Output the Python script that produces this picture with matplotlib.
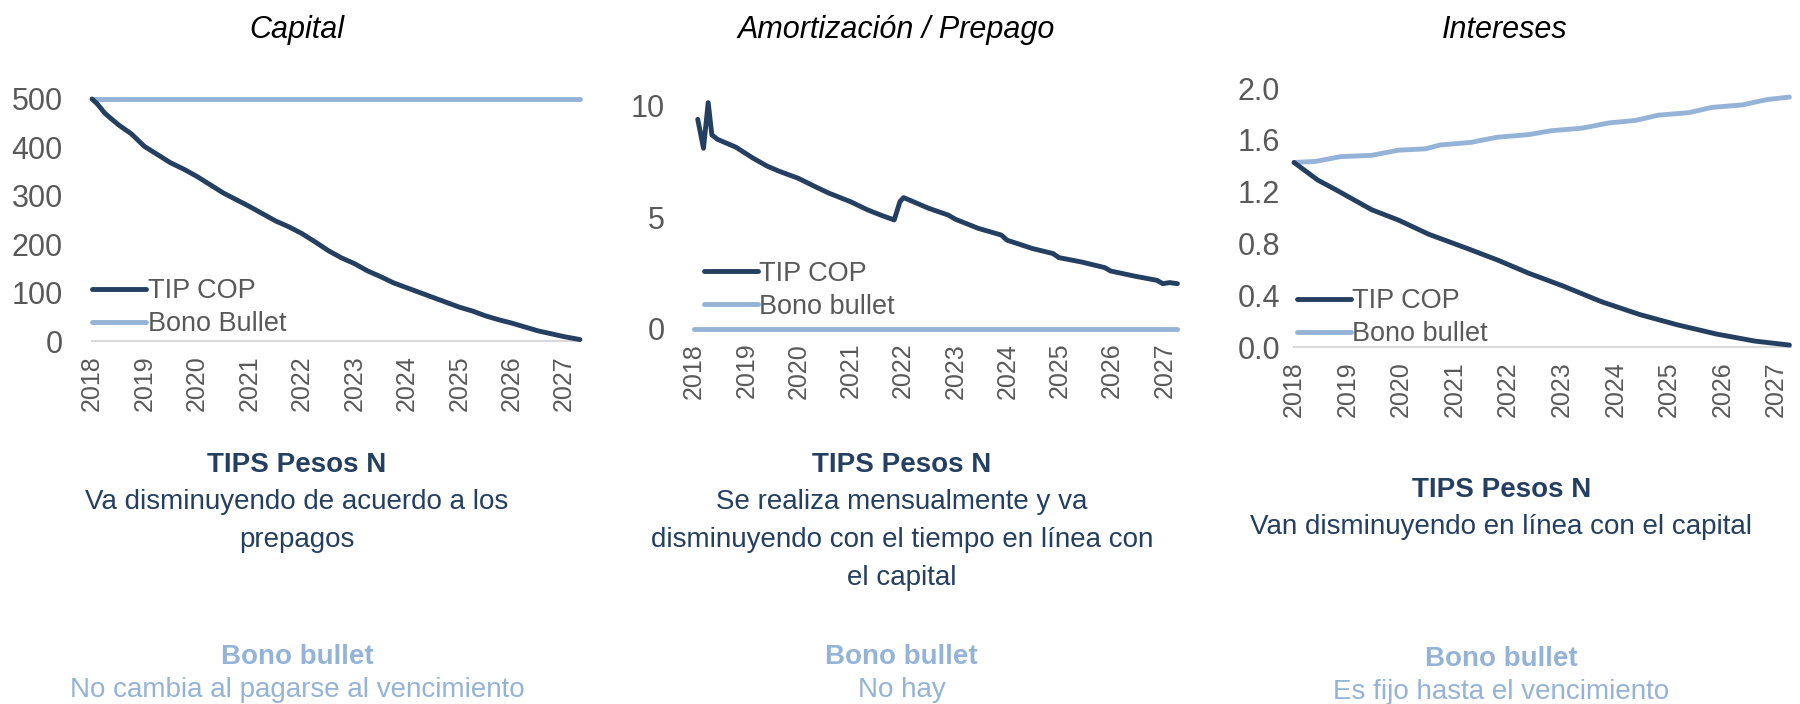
import matplotlib
matplotlib.use("Agg")
import matplotlib.pyplot as plt

plt.rcParams['font.family'] = ['Liberation Sans', 'DejaVu Sans']

NAVY = '#243F60'
LIGHT = '#95B3D7'
GREY = '#595959'

years = list(range(2018, 2028))

# Capital
cap_x = [2018.0, 2018.1, 2018.25, 2018.5, 2018.75, 2019.0, 2019.25, 2019.5, 2019.75,
         2020.0, 2020.25, 2020.5, 2020.75, 2021.0, 2021.25, 2021.5, 2021.75, 2022.0,
         2022.25, 2022.5, 2022.75, 2023.0, 2023.25, 2023.5, 2023.75, 2024.0, 2024.25,
         2024.5, 2024.75, 2025.0, 2025.25, 2025.5, 2025.75, 2026.0, 2026.25, 2026.5,
         2026.75, 2027.0, 2027.3]
cap_tip = [500, 490, 470, 447, 428, 402, 385, 368, 355, 340, 323, 306, 292, 278, 263,
           248, 236, 222, 205, 187, 172, 160, 145, 133, 120, 110, 100, 90, 80, 70, 62,
           52, 44, 37, 29, 21, 15, 9, 3]
cap_bullet_x = [2018.0, 2027.3]
cap_bullet = [500, 500]

# Amortizacion / Prepago
am_x = [2018.07, 2018.18, 2018.27, 2018.34, 2018.45, 2018.8, 2019.12, 2019.4, 2019.63,
        2020.0, 2020.3, 2020.58, 2021.0, 2021.32, 2021.6, 2021.83, 2021.94, 2022.01,
        2022.25, 2022.49, 2022.86, 2023.0, 2023.44, 2023.88, 2023.99, 2024.47, 2024.87,
        2024.98, 2025.42, 2025.86, 2025.97, 2026.45, 2026.86, 2026.97, 2027.1, 2027.25]
am_tip = [9.4, 8.1, 10.15, 8.7, 8.5, 8.15, 7.67, 7.3, 7.07, 6.75, 6.4, 6.09, 5.7, 5.34,
          5.08, 4.89, 5.71, 5.89, 5.65, 5.41, 5.11, 4.92, 4.51, 4.21, 3.98, 3.61, 3.38,
          3.2, 3.0, 2.75, 2.6, 2.36, 2.18, 2.03, 2.08, 2.03]
am_bullet_x = [2018.0, 2027.25]
am_bullet = [0, 0]

# Intereses
int_x = [2018.0, 2018.44, 2018.8, 2019.45, 2019.95, 2020.52, 2021.24, 2021.81, 2022.38,
         2023.03, 2023.74, 2024.46, 2025.17, 2025.89, 2026.6, 2027.25]
int_tip = [1.425, 1.29, 1.21, 1.06, 0.98, 0.87, 0.76, 0.67, 0.57, 0.47, 0.35, 0.25,
           0.17, 0.10, 0.046, 0.015]
intb_x = [2018.0, 2018.4, 2018.87, 2019.45, 2019.95, 2020.45, 2020.73, 2021.3, 2021.8,
          2022.38, 2022.8, 2023.38, 2023.88, 2024.38, 2024.8, 2025.38, 2025.8, 2026.38,
          2026.82, 2027.25]
int_bullet = [1.425, 1.433, 1.47, 1.48, 1.52, 1.53, 1.56, 1.58, 1.62, 1.64, 1.67, 1.69,
              1.73, 1.75, 1.79, 1.81, 1.85, 1.87, 1.91, 1.93]

fig = plt.figure(figsize=(18, 7.04), dpi=100)

panels = [
    dict(rect=[0.0511, 0.5156, 0.2711, 0.3438], title='Capital', tx=0.165,
         x1=cap_x, y1=cap_tip, x2=cap_bullet_x, y2=cap_bullet, lab2='Bono Bullet',
         ylim=(0, 500), yt=[0, 100, 200, 300, 400, 500], yfmt='{:.0f}',
         xlim=(2018, 2027.3), leg=(0.0, 0.016), ypad=21),
    dict(rect=[0.3856, 0.5327, 0.2694, 0.3327], title='Amortización / Prepago', tx=0.498,
         x1=am_x, y1=am_tip, x2=am_bullet_x, y2=am_bullet, lab2='Bono bullet',
         ylim=(0, 10.5), yt=[0, 5, 10], yfmt='{:.0f}',
         xlim=(2018, 2027.28), leg=(0.02, 0.04), ypad=21),
    dict(rect=[0.7189, 0.5071, 0.2761, 0.3679], title='Intereses', tx=0.836,
         x1=int_x, y1=int_tip, x2=intb_x, y2=int_bullet, lab2='Bono bullet',
         ylim=(0, 2.0), yt=[0, 0.4, 0.8, 1.2, 1.6, 2.0], yfmt='{:.1f}',
         xlim=(2018, 2027.28), leg=(0.005, 0.0), ypad=10),
]

for p in panels:
    ax = fig.add_axes(p['rect'])
    ax.plot(p['x1'], p['y1'], color=NAVY, lw=3.5, label='TIP COP', clip_on=False,
            solid_capstyle='round', zorder=4)
    ax.plot(p['x2'], p['y2'], color=LIGHT, lw=3.5, label=p['lab2'], clip_on=False,
            solid_capstyle='round', zorder=3)
    ax.set_xlim(*p['xlim'])
    ax.set_ylim(*p['ylim'])
    ax.set_yticks(p['yt'])
    ax.set_yticklabels([p['yfmt'].format(v) for v in p['yt']], fontsize=22, color=GREY)
    ax.set_xticks(years)
    ax.set_xticklabels([str(y) for y in years], rotation=90, fontsize=18, color=GREY)
    for s in ['top', 'right', 'left']:
        ax.spines[s].set_visible(False)
    ax.spines['bottom'].set_color('#D9D9D9')
    ax.spines['bottom'].set_linewidth(1.5)
    ax.tick_params(axis='x', length=0, pad=10)
    ax.tick_params(axis='y', length=0, pad=p['ypad'])
    ax.patch.set_alpha(0)
    leg = ax.legend(loc='lower left', bbox_to_anchor=p['leg'], frameon=False,
                    fontsize=19.5, handlelength=2.0, handletextpad=0.05,
                    labelspacing=0.25, borderaxespad=0, borderpad=0)
    for t in leg.get_texts():
        t.set_color(GREY)
    fig.text(p['tx'], 0.958, p['title'], ha='center', va='center', fontsize=22,
             style='italic', color='black')

# texts below the charts
FS = 20
LS = 1.62
fig.text(0.165, 1 - 465 / 704, 'TIPS Pesos N', ha='center', va='center', fontsize=FS,
         weight='bold', color=NAVY)
fig.text(0.165, 1 - 521 / 704, 'Va disminuyendo de acuerdo a los\nprepagos', ha='center',
         va='center', fontsize=FS, color=NAVY, linespacing=LS)
fig.text(0.165, 1 - 657 / 704, 'Bono bullet', ha='center', va='center', fontsize=FS,
         weight='bold', color=LIGHT)
fig.text(0.165, 1 - 690 / 704, 'No cambia al pagarse al vencimiento', ha='center',
         va='center', fontsize=FS, color=LIGHT)

fig.text(0.501, 1 - 465 / 704, 'TIPS Pesos N', ha='center', va='center', fontsize=FS,
         weight='bold', color=NAVY)
fig.text(0.501, 1 - 540 / 704,
         'Se realiza mensualmente y va\ndisminuyendo con el tiempo en línea con\nel capital',
         ha='center', va='center', fontsize=FS, color=NAVY, linespacing=LS)
fig.text(0.501, 1 - 657 / 704, 'Bono bullet', ha='center', va='center', fontsize=FS,
         weight='bold', color=LIGHT)
fig.text(0.501, 1 - 690 / 704, 'No hay', ha='center', va='center', fontsize=FS,
         color=LIGHT)

fig.text(0.834, 1 - 490 / 704, 'TIPS Pesos N', ha='center', va='center', fontsize=FS,
         weight='bold', color=NAVY)
fig.text(0.834, 1 - 527 / 704, 'Van disminuyendo en línea con el capital', ha='center',
         va='center', fontsize=FS, color=NAVY)
fig.text(0.834, 1 - 659 / 704, 'Bono bullet', ha='center', va='center', fontsize=FS,
         weight='bold', color=LIGHT)
fig.text(0.834, 1 - 692 / 704, 'Es fijo hasta el vencimiento', ha='center', va='center',
         fontsize=FS, color=LIGHT)

fig.savefig('out.png', dpi=100)
